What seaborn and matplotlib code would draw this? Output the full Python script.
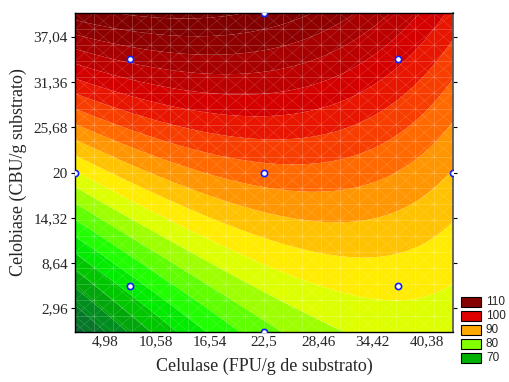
import numpy as np
import pandas as pd
import matplotlib
matplotlib.use("Agg")
import matplotlib.pyplot as plt
import seaborn as sns
from matplotlib.colors import LinearSegmentedColormap
from matplotlib.patches import Rectangle

# ---- data ----
# fitted quadratic model coefficients (coded units), read from the contour map
coef_names = ["b0", "b1", "b2", "b11", "b22", "b12"]
coef_vals = [94.0, 1.8, 11.7, -3.4, 0.75, -4.3]
x_center, x_step = 22.5, 14.8
y_center, y_step = 20.0, 14.2

# experimental design points (Celulase, Celobiase)
design_x = [7.7, 37.3, 7.7, 37.3, 1.7, 43.3, 22.5, 22.5, 22.5]
design_y = [5.8, 5.8, 34.2, 34.2, 20.0, 20.0, 0.0, 40.0, 20.0]

xticks = [4.98, 10.58, 16.54, 22.5, 28.46, 34.42, 40.38]
xtick_labels = ["4,98", "10,58", "16,54", "22,5", "28,46", "34,42", "40,38"]
yticks = [2.96, 8.64, 14.32, 20, 25.68, 31.36, 37.04]
ytick_labels = ["2,96", "8,64", "14,32", "20", "25,68", "31,36", "37,04"]

legend_vals = [110, 100, 90, 80, 70]

# colour anchors (value -> colour)
anchor_vals = [58, 62, 66, 70, 75, 80, 85, 87.5, 90, 95, 100, 105, 110, 116]
anchor_cols = ["#06502a", "#0a6a30", "#008a20", "#00b400", "#00ff00", "#80ff00",
               "#ffff00", "#ffd800", "#ffaa00", "#ff5200", "#e00000", "#b00000",
               "#850000", "#700000"]

sns.set_theme(style="white")
plt.rcParams["font.family"] = ["Liberation Serif", "DejaVu Serif"]

xmin, xmax = 1.7, 43.3
ymin, ymax = 0.0, 40.0

xs = np.linspace(xmin, xmax, 300)
ys = np.linspace(ymin, ymax, 300)
XX, YY = np.meshgrid(xs, ys)
cx = (XX - x_center) / x_step
cy = (YY - y_center) / y_step
b = dict(zip(coef_names, coef_vals))
ZZ = (b["b0"] + b["b1"] * cx + b["b2"] * cy + b["b11"] * cx ** 2
      + b["b22"] * cy ** 2 + b["b12"] * cx * cy)

lo, hi = anchor_vals[0], anchor_vals[-1]
cmap = LinearSegmentedColormap.from_list(
    "stat", [((v - lo) / (hi - lo), c) for v, c in zip(anchor_vals, anchor_cols)])
levels = np.arange(55, 120.1, 2.5)
mids = (levels[:-1] + levels[1:]) / 2

fig = plt.figure(figsize=(5.09, 3.82), dpi=100)
ax = fig.add_axes([75 / 509, 1 - 332 / 382, (453 - 75) / 509, (332 - 13) / 382])

band_colors = [cmap((m - lo) / (hi - lo)) for m in mids]
ax.contourf(XX, YY, ZZ, levels=levels, colors=band_colors, antialiased=True)

# faint mesh
gx = np.linspace(xmin, xmax, 21)
gy = np.linspace(ymin, ymax, 21)
for g in gx:
    ax.plot([g, g], [ymin, ymax], color="white", lw=0.6, alpha=0.22)
for g in gy:
    ax.plot([xmin, xmax], [g, g], color="white", lw=0.6, alpha=0.22)
dxs = gx[1] - gx[0]
for k in range(-20, 21):
    x0 = xmin + k * dxs
    ax.plot([x0, x0 + 20 * dxs], [ymin, ymax], color="white", lw=0.5, alpha=0.16)
    ax.plot([x0, x0 + 20 * dxs], [ymax, ymin], color="white", lw=0.5, alpha=0.16)

df = pd.DataFrame({"x": design_x, "y": design_y})
sns.scatterplot(data=df, x="x", y="y", ax=ax, s=20, color="white",
                edgecolor="#1020ff", linewidth=1.2, zorder=5, clip_on=True)

ax.set_xlim(xmin, xmax)
ax.set_ylim(ymin, ymax)
ax.set_xticks(xticks)
ax.set_xticklabels(xtick_labels, fontsize=11)
ax.set_yticks(yticks)
ax.set_yticklabels(ytick_labels, fontsize=11)
ax.tick_params(axis="both", which="both", length=3, width=0.8, color="black",
               pad=2, bottom=True, left=True, top=True, right=True,
               direction="out")
ax.tick_params(axis="x", top=True, direction="in")
ax.set_xlabel("Celulase (FPU/g de substrato)", fontsize=13, labelpad=7)
ax.set_ylabel("Celobiase (CBU/g substrato)", fontsize=13, labelpad=5)
for side in ["left", "bottom", "top"]:
    ax.spines[side].set_color("black")
    ax.spines[side].set_linewidth(1.0)
ax.spines["right"].set_color("#555555")

# legend
for i, v in enumerate(legend_vals):
    ytop = 297 + i * 14
    rect = Rectangle((461 / 509, 1 - (ytop + 10) / 382), 20 / 509, 10 / 382,
                     transform=fig.transFigure, facecolor=cmap((v - lo) / (hi - lo)),
                     edgecolor="black", linewidth=0.8)
    fig.patches.append(rect)
    fig.text(486 / 509, 1 - (ytop + 5) / 382, str(v), fontsize=8.5,
             family=["Liberation Sans", "DejaVu Sans"], va="center", ha="left")

fig.savefig("out.png", dpi=100)
